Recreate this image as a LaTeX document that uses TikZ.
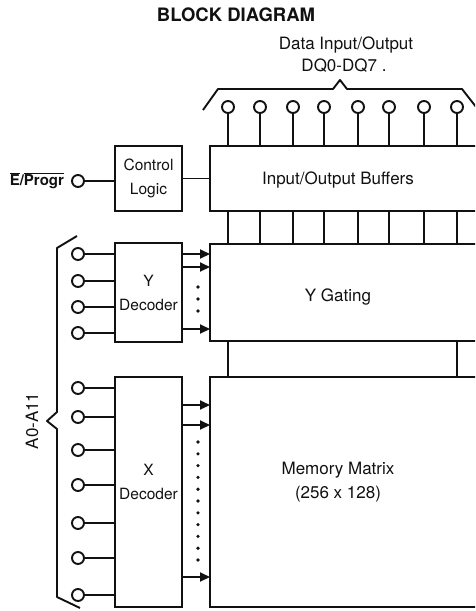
\documentclass[tikz,border=0pt]{standalone}
\usepackage{fontspec}
\setmainfont{TeX Gyre Heros}
\usetikzlibrary{arrows.meta,positioning}
\definecolor{blkInk}{HTML}{111111}
\tikzset{
  block diagram/.style={
    draw=blkInk, line width=1.9pt,
    >={Triangle[length=10pt,width=9pt]},
    every node/.style={font=\fontsize{17}{24}\selectfont,
      text=blkInk, inner sep=0pt, outer sep=0pt}
  },
  blk box/.style={draw=blkInk, line width=2.8pt, anchor=north west, align=center},
  blk small/.style={font=\fontsize{15.5}{24}\selectfont},
  blk pin/.style={draw=blkInk, circle, line width=1.9pt, minimum size=12pt, fill=white},
  blk wire/.style={line width=1.9pt},
  blk brace/.style={line width=1.9pt, line join=round},
  blk dot/.style={fill=blkInk}
}

\begin{document}
\begin{tikzpicture}[block diagram,x=1pt,y=-1pt]
    \useasboundingbox (0,0) rectangle (475,611);
    \clip (0,0) rectangle (475,611);
    % title and data labels
    \node[font=\bfseries\fontsize{18.5}{22}\selectfont] (title) at (236,15) {BLOCK DIAGRAM};
    \node (dqtxt) at (346,45) {Data Input/Output};
    \node (dqrng) at (344,66) {DQ0-DQ7 .};
    % blocks
    \node[blk box, blk small, minimum width=67pt, minimum height=65pt] (ctrl) at (115,146) {Control\\Logic};
    \node[blk box, minimum width=290pt, minimum height=65pt] (iob) at (210,146) {};
    \node[blk box, blk small, minimum width=67pt, minimum height=99pt] (ydec) at (115,243) {Y\\Decoder};
    \node[blk box, minimum width=290pt, minimum height=97pt] (yg) at (210,244) {};
    \node[blk box, minimum width=67pt, minimum height=230pt,
      label={[blk small,yshift=10pt,align=center]center:X\\Decoder}] (xdec) at (115,377) {};
    \node[blk box, minimum width=290pt, minimum height=230pt] (mem) at (210,377) {};
    \node (iotxt) at (338,180) {Input/Output Buffers};
    \node (ygtxt) at (338,297) {Y Gating};
    \node[align=center] (memtxt) at (338,482) {Memory Matrix\\(256 x 128)};
    % data pins and bus lines
    \foreach \x [count=\i] in {228,260,293,324,358,389,424,457} {
      \node[blk pin] (dq\i) at (\x,107) {};
      \draw[blk wire] (dq\i) -- (dq\i |- iob.north);
      \draw[blk wire] (dq\i |- iob.south) -- (dq\i |- yg.north);
    }
    \draw[blk wire] (dq1 |- yg.south) -- (dq1 |- mem.north);
    \draw[blk wire] (dq8 |- yg.south) -- (dq8 |- mem.north);
    \draw[blk brace] (203,110) -- (218,89) -- (333,89) -- (340,80) -- (347,89)
      -- (462,89) -- (480,112);
    % control input
    \node[blk pin] (ep) at (78,181) {};
    \node[left=8pt of ep, font=\bfseries\fontsize{15}{18}\selectfont] (eptxt)
      {$\overline{\mbox{E}}$/$\overline{\mbox{Progr}}$};
    \draw[blk wire] (ep) -- (ep -| ctrl.west);
    \draw[blk wire] (ctrl.east) -- (ctrl.east -| iob.west);
    % address pins
    \foreach \y [count=\i] in {254,281,307,333} {
      \node[blk pin] (ya\i) at (78,\y) {};
      \draw[blk wire] (ya\i) -- (ya\i -| ydec.west);
    }
    \foreach \y [count=\i] in {388,417,450,485,523,558,595} {
      \node[blk pin] (xa\i) at (78,\y) {};
      \draw[blk wire] (xa\i) -- (xa\i -| xdec.west);
    }
    \draw[blk brace] (77,236) -- (57,248) -- (57,412) -- (47,421) -- (57,429)
      -- (57,597) -- (80,608);
    \node[rotate=90] (addr) at (32,421) {A0-A11};
    % decoder outputs
    \foreach \y in {254,267,329}
      \draw[blk wire,->] (ydec.east |- 0,\y) -- (yg.west |- 0,\y);
    \foreach \y in {405,425,577}
      \draw[blk wire,->] (xdec.east |- 0,\y) -- (mem.west |- 0,\y);
    \foreach \y in {287,299,311}
      \fill[blk dot] (198,\y) circle (1.8pt);
    \foreach \i in {0,...,10}
      \fill[blk dot] (198,{442+11.8*\i}) circle (1.8pt);
\end{tikzpicture}
\end{document}
